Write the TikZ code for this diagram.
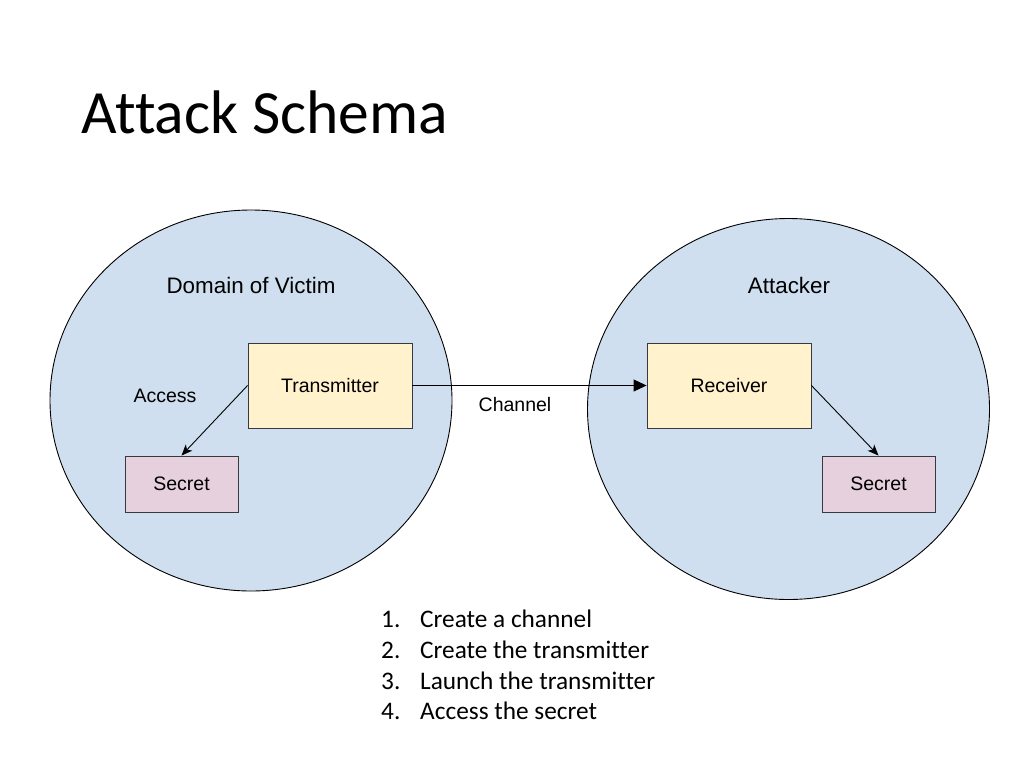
\documentclass[tikz,border=0pt]{standalone}
\usepackage{fontspec}
\setmainfont{Liberation Sans}
\newfontfamily\calibri[Ligatures=NoCommon]{Carlito}
\usetikzlibrary{arrows.meta,shapes.geometric}
\definecolor{domainblue}{RGB}{207,223,239}
\definecolor{boxyellow}{RGB}{255,242,204}
\definecolor{boxpink}{RGB}{230,208,222}
\definecolor{boxline}{RGB}{54,57,61}
\tikzset{
  domainbubble/.style={ellipse, draw=black, line width=0.9pt, fill=domainblue, inner sep=0pt, minimum width=402pt, minimum height=381pt},
  agentbox/.style={rectangle, draw=boxline, line width=0.9pt, fill=boxyellow, minimum width=164pt, minimum height=85pt, inner sep=0pt, font=\fontsize{19.5}{23}\selectfont},
  secretbox/.style={rectangle, draw=boxline, line width=0.9pt, fill=boxpink, minimum width=113pt, minimum height=56pt, inner sep=0pt, font=\fontsize{19.5}{23}\selectfont},
  headinglabel/.style={anchor=base, inner sep=0pt, font=\fontsize{22.4}{26}\selectfont},
  smalllabel/.style={anchor=base, inner sep=0pt, font=\fontsize{19.5}{23}\selectfont},
  accessarrow/.style={draw=black, line width=0.9pt, -{Stealth[length=11pt,width=9pt,inset=3pt]}},
  channelarrow/.style={draw=black, line width=0.9pt, -{Triangle[length=13pt,width=12pt]}},
  listitem/.style={anchor=base west, inner sep=0pt, font=\calibri\fontsize{25.3}{30}\selectfont},
}
\begin{document}
\begin{tikzpicture}[x=1pt,y=-1pt]
\useasboundingbox (0,0) rectangle (1024,768);
\node[anchor=base west, inner sep=0pt, font=\calibri\fontsize{61.5}{70}\selectfont] (title) at (81,133) {Attack Schema};

\node[domainbubble] (victim) at (251,400.5) {};
\node[domainbubble] (attacker) at (788.5,409) {};

\node[headinglabel] (victimlabel) at (251,293) {Domain of Victim};
\node[headinglabel] (attackerlabel) at (789,293) {Attacker};

\node[agentbox] (transmitter) at (330,385.5) {Transmitter};
\node[agentbox] (receiver) at (729,385.5) {Receiver};
\node[secretbox] (secretL) at (181.5,484) {Secret};
\node[secretbox] (secretR) at (878.5,484) {Secret};

\node[smalllabel] (access) at (165,402) {Access};
\node[smalllabel] (channel) at (515,411) {Channel};

\draw[channelarrow] (transmitter.east) -- (receiver.west);
\draw[accessarrow] (transmitter.west) -- (secretL.north);
\draw[accessarrow] (receiver.east) -- (secretR.north);

\node[listitem] (n1) at (381,627) {1.};
\node[listitem] (t1) at (420,627) {Create a channel};
\node[listitem] (n2) at (381,658) {2.};
\node[listitem] (t2) at (420,658) {Create the transmitter};
\node[listitem] (n3) at (381,689) {3.};
\node[listitem] (t3) at (420,689) {Launch the transmitter};
\node[listitem] (n4) at (381,719) {4.};
\node[listitem] (t4) at (420,719) {Access the secret};
\end{tikzpicture}
\end{document}
